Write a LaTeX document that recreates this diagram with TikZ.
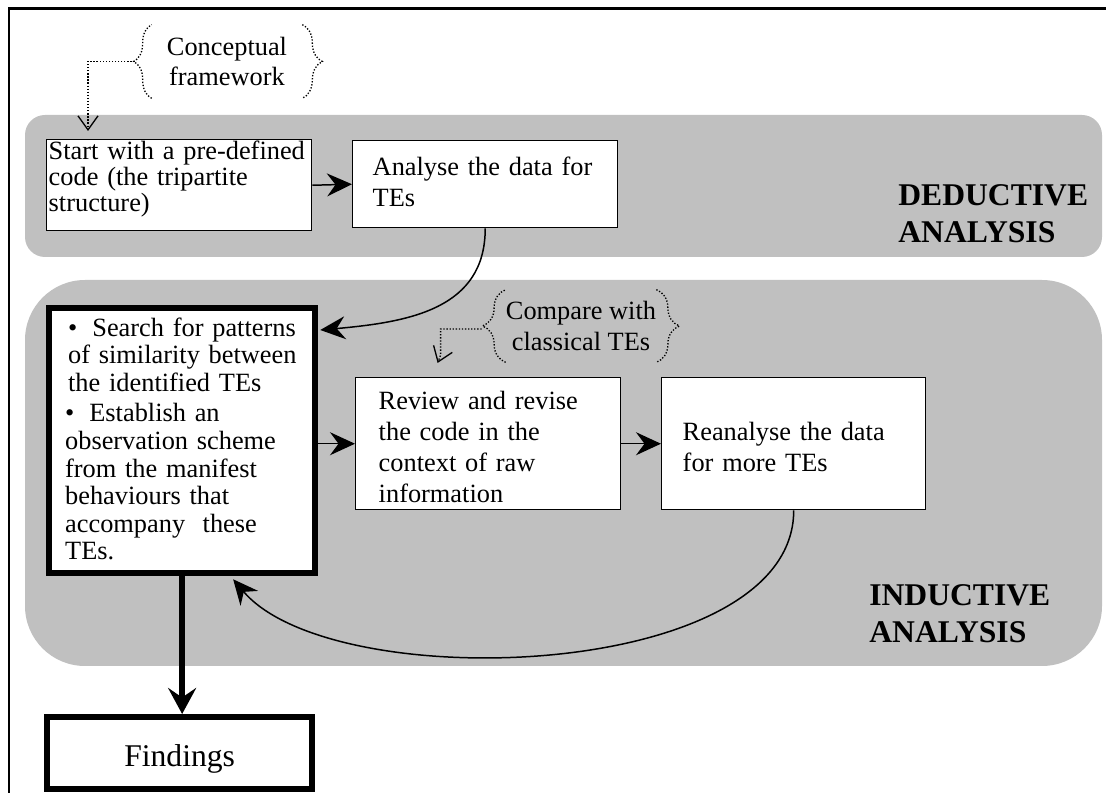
\documentclass[tikz,border=0pt]{standalone}
\usepackage{fontspec}
\setmainfont{Liberation Serif}
\usetikzlibrary{arrows.meta,calc,decorations.pathreplacing}
\definecolor{bandgray}{HTML}{C0C0C0}
\hyphenpenalty=10000
\exhyphenpenalty=10000
\tikzset{
	plainbox/.style={draw, line width=0.85pt, fill=white, anchor=north west, inner ysep=0pt, align=left},
	boldbox/.style={plainbox, line width=3.6pt},
	thinarrow/.style={line width=0.85pt, -{Stealth[length=0.5cm,width=0.46cm,inset=0.17cm]}},
	thickarrow/.style={line width=3.4pt, -{Stealth[length=0.52cm,width=0.56cm,inset=0.19cm]}},
	dotline/.style={densely dotted, line width=0.75pt, -{Straight Barb[length=0.28cm,width=0.4cm]}},
	bracedot/.style={densely dotted, line width=0.75pt, decorate, decoration={brace, amplitude=#1}},
	bracedot/.default=0.36cm,
	heading/.style={anchor=base west, inner sep=0pt, text width=4.5cm, align=left, font=\fontsize{18}{20.9}\selectfont\bfseries}
}

\begin{document}
\begin{tikzpicture}[x=0.02cm, y=-0.02cm]
			%%%%% START %%%%%
			\useasboundingbox (0,0) rectangle (1106,793);
			
			\draw[line width=1.7pt] (8,8.7) -- (1106,8.7);
			\draw[line width=1.1pt] (9.2,8) -- (9.2,793);
			
			\fill[bandgray, rounded corners=0.4cm] (25,115) rectangle (1102,257);
			\fill[bandgray, rounded corners=1.2cm] (25,280) rectangle (1102,666);
			
			\node[heading] (deductive) at (898,206) {DEDUCTIVE\\ANALYSIS};
			\node[heading] (inductive) at (869,606) {INDUCTIVE\\ANALYSIS};
			
			\node[inner sep=0pt, minimum width=3cm, minimum height=1.46cm, align=center, font=\fontsize{15}{17.1}\selectfont] (concept) at (227,61.5) {Conceptual\\framework};
			\draw[bracedot] (concept.south west) -- (concept.north west);
			\draw[bracedot=0.4cm] (concept.north east) -- (concept.south east);
			
			\node[inner sep=0pt, minimum width=2.96cm, minimum height=1.44cm, align=center, font=\fontsize{15}{18}\selectfont] (compare) at (581,326) {Compare with\\classical TEs};
			\draw[bracedot=0.46cm] (compare.south west) -- (compare.north west);
			\draw[bracedot=0.46cm] (compare.north east) -- (compare.south east);
			
			\node[plainbox, inner xsep=0.04cm, text width=5.22cm, text height=0.4cm, text depth=1.42cm, font=\fontsize{15}{13.1}\selectfont] (start) at (46,139) {Start with a pre-defined code (the tripartite structure)};
			\node[plainbox, inner xsep=0.4cm, text width=4.5cm, text height=0.7cm, text depth=1.04cm, font=\fontsize{15}{17.6}\selectfont] (analyse) at (352,140) {Analyse the data for TEs};
			
			\node[boldbox, inner xsep=0.32cm, text width=4.68cm, text height=0.56cm, text depth=4.74cm, font=\fontsize{15}{15.7}\selectfont] (search) at (46,305) {\leftskip=0.06cm •\hspace{0.3cm}Search for patterns of similarity between the identified TEs\\[0.06cm]
				•\hspace{0.3cm}Establish an observation scheme from the manifest behaviours that accompany\ \ these TEs.};
			\node[plainbox, inner xsep=0.46cm, text width=4.38cm, text height=0.64cm, text depth=2.0cm, font=\fontsize{15}{17.6}\selectfont] (review) at (355,377) {Review and revise the code in the context of raw information};
			\node[plainbox, inner xsep=0.42cm, text width=4.44cm, text height=1.26cm, text depth=1.38cm, font=\fontsize{15}{17.6}\selectfont] (reanalyse) at (661,377) {Reanalyse the data for more TEs};
			
			\node[boldbox, align=center, inner sep=0pt, minimum width=5.3cm, text height=0.98cm, text depth=0.46cm, font=\fontsize{18}{20}\selectfont] (findings) at (44,714) {Findings};
			
			\draw[dotline] ($(concept.west)+(-17,0)$) -| ($(start.north west)+(42,-8)$);
			\draw[dotline] ($(compare.west)+(-24,3)$) -| ++(-41,26) -- ++(-3,8);
			
			\draw[thinarrow] (start.east) -- (analyse.west);
			\draw[thinarrow] (analyse.south) .. controls +(0,80) and +(90,-8) .. ($(search.north east)+(2,25)$);
			\draw[thinarrow] (search.east |- review.west) -- (review.west);
			\draw[thinarrow] (review.east) -- (reanalyse.west);
			\draw[thinarrow] (reanalyse.south) .. controls +(0,171) and +(100,118) .. ($(search.south)+(51,3)$);
			\draw[thickarrow] (search.south) -- (search.south |- findings.north);
			
			%%%%% END %%%%%
\end{tikzpicture}
\end{document}
